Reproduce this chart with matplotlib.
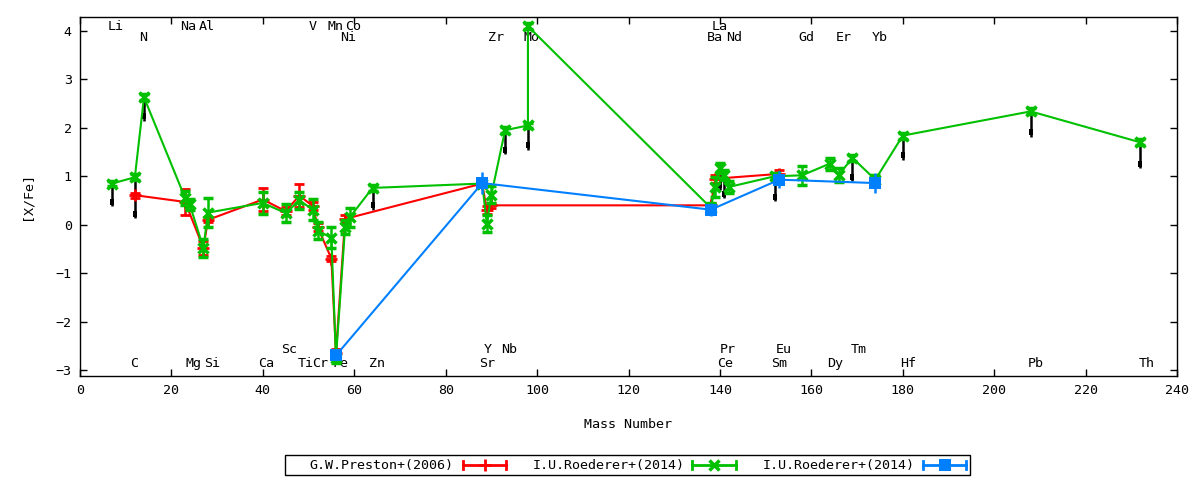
import matplotlib
matplotlib.use("Agg")
import matplotlib.pyplot as plt
from matplotlib.lines import Line2D
from matplotlib.patches import Rectangle
import numpy as np

plt.rcParams['font.family'] = ['DejaVu Sans Mono']

# ---------------- data ----------------
# G.W.Preston+(2006)
red_x = [12, 23, 27, 28, 40, 45, 48, 51, 52, 55, 56, 58, 88, 89, 90, 138, 139, 153]
red_y = [0.61, 0.47, -0.48, 0.10, 0.52, 0.28, 0.60, 0.38, -0.05, -0.70, -2.65, 0.12,
         0.85, 0.30, 0.40, 0.40, 0.95, 1.05]
red_e = [0.05, 0.27, 0.15, 0.05, 0.23, 0.08, 0.24, 0.08, 0.08, 0.05, 0.08, 0.08,
         0.05, 0.08, 0.05, 0.05, 0.08, 0.08]

# I.U.Roederer+(2014) (green)
grn_x = [7, 12, 14, 23, 24, 27, 28, 40, 45, 48, 51, 52, 55, 56, 58, 59, 64, 88, 89, 90,
         93, 98, 98, 138, 139, 140, 141, 142, 152, 158, 164, 166, 169, 174, 180, 208, 232]
grn_y = [0.85, 0.98, 2.63, 0.55, 0.42, -0.48, 0.25, 0.45, 0.24, 0.50, 0.31, -0.12, -0.27,
         -2.75, -0.05, 0.15, 0.76, 0.85, 0.02, 0.62, 1.95, 2.05, 4.10, 0.35, 0.78, 1.17,
         1.03, 0.78, 1.00, 1.02, 1.26, 1.03, 1.38, 0.93, 1.84, 2.34, 1.70]
grn_e = [0.06, 0.06, 0.06, 0.15, 0.12, 0.18, 0.30, 0.22, 0.18, 0.18, 0.22, 0.18, 0.22,
         0.10, 0.15, 0.20, 0.06, 0.06, 0.18, 0.17, 0.06, 0.06, 0.06, 0.10, 0.20, 0.10,
         0.10, 0.12, 0.06, 0.20, 0.12, 0.15, 0.06, 0.10, 0.06, 0.06, 0.06]

# I.U.Roederer+(2014) (blue)
blu_x = [56, 88, 138, 153, 174]
blu_y = [-2.70, 0.86, 0.31, 0.93, 0.86]
blu_e = [0.08, 0.22, 0.13, 0.17, 0.20]

# upper limits (arrows): x, start, end
lim_x = [7, 12, 12, 14, 64, 93, 98, 140, 141, 152, 169, 180, 208, 232]
lim_y0 = [0.85, 0.98, 0.61, 2.63, 0.76, 1.95, 2.05, 1.10, 0.98, 0.98, 1.38, 1.84, 2.34, 1.70]
lim_y1 = [0.38, 0.50, 0.14, 2.15, 0.31, 1.45, 1.55, 0.72, 0.55, 0.48, 0.90, 1.34, 1.82, 1.17]

# element labels
el_names = ['Li', 'Na', 'Al', 'V', 'Mn', 'Co', 'La',
            'N', 'Ni', 'Zr', 'Mo', 'Ba', 'Nd', 'Gd', 'Er', 'Yb',
            'Sc', 'Y', 'Nb', 'Pr', 'Eu', 'Tm',
            'C', 'Mg', 'Si', 'Ca', 'Ti', 'Cr', 'Fe', 'Zn', 'Sr', 'Ce', 'Sm', 'Dy', 'Hf', 'Pb', 'Th']
el_x = [7.9, 23.7, 27.7, 50.9, 55.8, 59.8, 140.0,
        13.85, 58.7, 91.0, 98.7, 138.9, 143.1, 159.0, 167.1, 175.0,
        45.8, 89.3, 93.9, 141.8, 154.0, 170.4,
        11.9, 24.8, 28.8, 40.8, 49.4, 52.6, 56.9, 64.9, 89.0, 141.1, 153.0, 165.2, 181.1, 209.2, 233.4]
el_y = [4.09] * 7 + [3.86] * 9 + [-2.58] * 6 + [-2.86] * 15

legend_labels = ['G.W.Preston+(2006)', 'I.U.Roederer+(2014)', 'I.U.Roederer+(2014)']

RED = '#ff0000'
GRN = '#00c000'
BLU = '#0080ff'

# ---------------- figure ----------------
W, H = 1200, 480
fig = plt.figure(figsize=(12, 4.8), dpi=100)
ax = fig.add_axes([80 / W, 1 - 376 / H, (1177 - 80) / W, (376 - 17) / H])

FS = 9.6

for n, xx, yy in zip(el_names, el_x, el_y):
    ax.text(xx, yy, n, ha='center', va='center', fontsize=FS, color='black', zorder=1)

# upper-limit arrows: thin shaft + small block head just above the tip
ax.vlines(lim_x, lim_y1, lim_y0, colors='black', lw=1.8, zorder=2)
head_marker = [(-1, -1.4), (1, -1.4), (1, 1.4), (-1, 1.4), (-1, -1.4)]
ax.plot(lim_x, np.array(lim_y1) + 0.09, ls='none', marker=head_marker, ms=5,
        color='black', mew=0, zorder=2)

common = dict(lw=1.5, capsize=3.6, capthick=2, elinewidth=1.8)
ax.errorbar(red_x, red_y, yerr=red_e, color=RED, marker='+', ms=9, mew=2, zorder=3, **common)
ax.errorbar(grn_x, grn_y, yerr=grn_e, color=GRN, marker='x', ms=7, mew=2.5, zorder=4, **common)
ax.errorbar(blu_x, blu_y, yerr=blu_e, color=BLU, marker='s', ms=8, mew=0, zorder=5, **common)

ax.set_xlim(0, 240)
ax.set_ylim(-3.124, 4.289)
ax.set_xticks(range(0, 241, 20))
ax.set_yticks(range(-3, 5))
ax.tick_params(direction='in', length=5, width=1, top=True, right=True,
               labelsize=FS, pad=6)
for s in ax.spines.values():
    s.set_linewidth(1)
ax.set_xlabel('Mass Number', fontsize=FS, labelpad=15)
ax.set_ylabel('[X/Fe]', fontsize=FS, labelpad=16)

# ---------------- legend (gnuplot style, drawn manually) ----------------
def fx(px):
    return px / W

def fy(py):
    return 1 - py / H

fig.patches.append(Rectangle((fx(285), fy(475)), fx(970) - fx(285), fy(455) - fy(475),
                             transform=fig.transFigure, fill=False, edgecolor='black', lw=1))
text_ends = [453, 685, 915]
samples = [(463, 506), (692, 736), (923, 966)]
colors = [RED, GRN, BLU]
markers = [('+', 9, 2), ('x', 7, 2.5), ('s', 8, 0)]
yc = 465
for lab, te, (s0, s1), c, (m, ms, mew) in zip(legend_labels, text_ends, samples, colors, markers):
    fig.text(fx(te), fy(yc), lab, ha='right', va='center', fontsize=FS)
    fig.lines.append(Line2D([fx(s0), fx(s1)], [fy(yc), fy(yc)], transform=fig.transFigure,
                            color=c, lw=2))
    for sx in (s0, s1):
        fig.lines.append(Line2D([fx(sx), fx(sx)], [fy(yc - 4), fy(yc + 4)],
                                transform=fig.transFigure, color=c, lw=2))
    fig.lines.append(Line2D([fx((s0 + s1) / 2)], [fy(yc)], transform=fig.transFigure,
                            color=c, marker=m, ms=ms, mew=mew, lw=0))

fig.savefig('out.png', dpi=100)
